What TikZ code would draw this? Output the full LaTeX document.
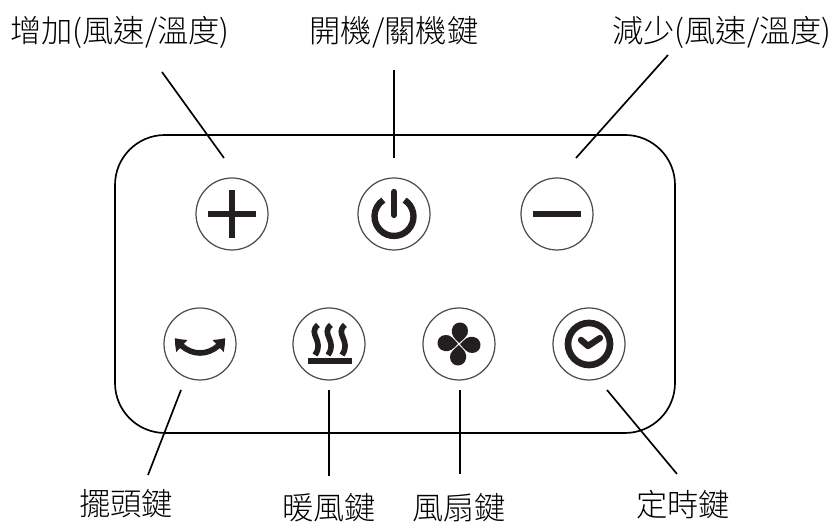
\documentclass[tikz,border=0pt]{standalone}
\usepackage{fontspec}
\setmainfont{Noto Sans CJK TC Light}
\usetikzlibrary{arrows.meta,bending}
\definecolor{ink}{HTML}{231F20}
\tikzset{
	btn/.style={draw=black!70,circle,line width=0.7pt,minimum size=1.44cm,inner sep=0pt},
	lbl/.style={inner sep=0pt,font=\fontsize{17.8pt}{19pt}\selectfont},
	lead/.style={line width=0.95pt},
	glyph/.style={draw=ink,line width=3.6pt},
	blob/.style={fill=ink,draw=none}
}
\begin{document}
\begin{tikzpicture}[x=0.02cm,y=0.02cm]
	\useasboundingbox (0,0) rectangle (836,526);
	\draw[line width=0.95pt,rounded corners=1cm] (115,93) rectangle (675,391);
	% buttons
	\node[btn] (plus) at (232,312){};
	\node[btn] (power) at (394,312){};
	\node[btn] (minus) at (557,312){};
	\node[btn] (swing) at (200,182){};
	\node[btn] (heat) at (329,182){};
	\node[btn] (fan) at (459,182){};
	\node[btn] (clock) at (589,182){};
	% labels
	\node[lbl] (lplus) at (120,494){增加(風速/溫度)};
	\node[lbl] (lpower) at (394,494){開機/關機鍵};
	\node[lbl] (lminus) at (722,494){減少(風速/溫度)};
	\node[lbl] (lswing) at (126,22){擺頭鍵};
	\node[lbl] (lheat) at (329,18){暖風鍵};
	\node[lbl] (lfan) at (459,18){風扇鍵};
	\node[lbl] (lclock) at (683,21){定時鍵};
	% leader ends
	\coordinate (a1) at (162,454);
	\coordinate (a2) at (224,368);
	\coordinate (b1) at (394,456);
	\coordinate (b2) at (394,368);
	\coordinate (c1) at (668,471);
	\coordinate (c2) at (576,368);
	\coordinate (d1) at (148,51);
	\coordinate (d2) at (181,136);
	\coordinate (e1) at (329,50);
	\coordinate (e2) at (329,136);
	\coordinate (f1) at (460,52);
	\coordinate (f2) at (460,136);
	\coordinate (g1) at (677,52);
	\coordinate (g2) at (607,136);
	\foreach \s in {a,b,c,d,e,f,g}
		\draw[lead] (\s1) -- (\s2);
	% plus
	\begin{scope}[shift={(plus.center)}]
		\draw[glyph] (-24,0) -- (24,0);
		\draw[glyph] (0,-24) -- (0,24);
	\end{scope}
	% minus
	\begin{scope}[shift={(minus.center)}]
		\draw[glyph] (-24,0) -- (24,0);
	\end{scope}
	% power
	\begin{scope}[shift={(power.center)}]
		\draw[glyph] (10.6,13.9) arc (57:-237:19.5);
		\draw[glyph,line cap=round] (0,22) -- (0,-1);
	\end{scope}
	% swing
	\begin{scope}[shift={(swing.center)}]
		\draw[draw=ink,line width=3.2pt,{Triangle[width=9pt,length=6pt,bend]}-{Triangle[width=9pt,length=6pt,bend]}] (-25,6) .. controls (-12,-14) and (12,-14) .. (25,6);
	\end{scope}
	% heat
	\begin{scope}[shift={(heat.center)}]
		\foreach \dx in {-13,0,14}
			\draw[glyph,line width=3.2pt,xshift=\dx*0.02cm] (2,19) .. controls (-9,10) and (9,3) .. (-1,-11);
		\fill[ink] (-21,-20) rectangle (23,-14);
	\end{scope}
	% fan
	\begin{scope}[shift={(fan.center)}]
		\foreach \a in {-4,-94,-184,-274}
			\fill[blob,rotate=\a] (0,1) .. controls (-5,5) and (-9,9) .. (-8,14) .. controls (-7,24) and (7,24) .. (8,14) .. controls (9,9) and (4,5) .. (0,1);
	\end{scope}
	% clock
	\begin{scope}[shift={(clock.center)}]
		\draw[draw=ink,line width=3.8pt] (0,0) circle (21);
		\draw[glyph,line cap=round,line join=round] (-8,4) -- (-1,-2) -- (11,6);
	\end{scope}
\end{tikzpicture}
\end{document}
